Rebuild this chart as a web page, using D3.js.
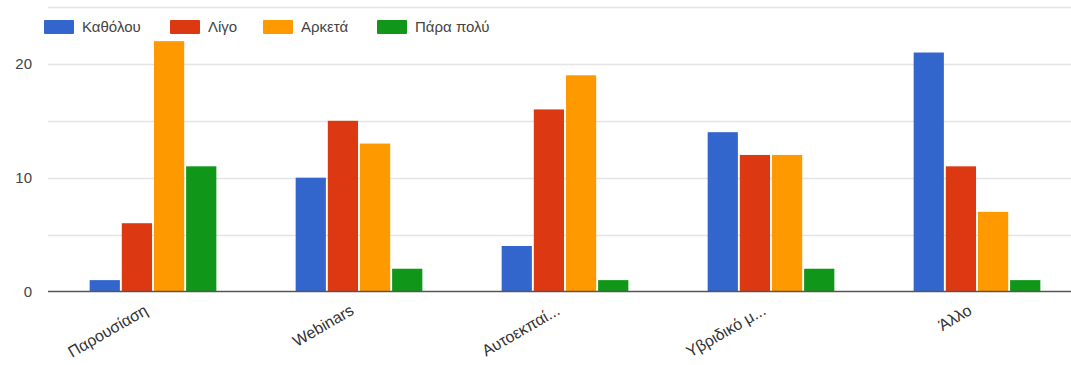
<!DOCTYPE html>
<html>
<head>
<meta charset="utf-8">
<script src="https://cdn.jsdelivr.net/npm/d3@7/dist/d3.min.js"></script>
<style>
  html, body { margin: 0; padding: 0; background: #fff; }
  svg { display: block; font-family: "Liberation Sans", Arial, sans-serif; }
</style>
</head>
<body>
<svg id="chart" width="1071" height="365"></svg>
<script>
// Categories and answer levels
const categories = ["Παρουσίαση", "Webinars", "Αυτοεκπαί...", "Υβριδικό μ...", "Άλλο"];
const seriesNames = ["Καθόλου", "Λίγο", "Αρκετά", "Πάρα πολύ"];
const seriesColors = ["#3366cc", "#dc3912", "#ff9900", "#109618"];

// Counts per category, one array per answer level
const katholou = [1, 10, 4, 14, 21];
const ligo     = [6, 15, 16, 12, 11];
const arketa   = [22, 13, 19, 12, 7];
const parapolu = [11, 2, 1, 2, 1];
const seriesValues = [katholou, ligo, arketa, parapolu];

const yTickValues = [0, 10, 20];
const gridValues = [5, 10, 15, 20, 25];

const svg = d3.select("#chart");
const plot = { left: 50, right: 1080, top: 7, bottom: 291.5 };

const x0 = d3.scaleBand()
  .domain(categories)
  .range([plot.left, plot.right])
  .paddingInner(0.385)
  .paddingOuter(0.1925);

const x1 = d3.scaleBand()
  .domain(seriesNames)
  .range([0, x0.bandwidth()])
  .paddingInner(0.06);

const y = d3.scaleLinear().domain([0, 25]).range([plot.bottom, plot.top]);

// Gridlines
svg.append("g")
  .selectAll("line")
  .data(gridValues)
  .join("line")
  .attr("x1", 48).attr("x2", 1071)
  .attr("y1", d => Math.round(y(d)) + 0.5)
  .attr("y2", d => Math.round(y(d)) + 0.5)
  .attr("stroke", "#e4e4e4")
  .attr("stroke-width", 1.5);

// Bars
const rows = categories.map((c, i) => ({
  cat: c,
  vals: seriesNames.map((s, j) => ({ s, v: seriesValues[j][i], color: seriesColors[j] }))
}));

svg.append("g")
  .selectAll("g")
  .data(rows)
  .join("g")
  .attr("transform", d => `translate(${x0(d.cat)},0)`)
  .selectAll("rect")
  .data(d => d.vals)
  .join("rect")
  .attr("x", d => x1(d.s))
  .attr("width", x1.bandwidth())
  .attr("y", d => y(d.v))
  .attr("height", d => y(0) - y(d.v))
  .attr("fill", d => d.color);

// Baseline
svg.append("line")
  .attr("x1", 48).attr("x2", 1071)
  .attr("y1", y(0)).attr("y2", y(0))
  .attr("stroke", "#555")
  .attr("stroke-width", 1.5);

// Y axis labels
const yAxis = d3.axisLeft(y).tickValues(yTickValues).tickSize(0).tickPadding(0);
const yg = svg.append("g").attr("transform", "translate(32,0)").call(yAxis);
yg.select(".domain").remove();
yg.selectAll("text")
  .attr("font-size", 15)
  .attr("fill", "#444")
  .attr("font-family", "'Liberation Sans', Arial, sans-serif");

// X axis labels, rotated
const xAxis = d3.axisBottom(x0).tickSize(0).tickPadding(0);
const xg = svg.append("g").attr("transform", `translate(0,${y(0)})`).call(xAxis);
xg.select(".domain").remove();
xg.selectAll("text")
  .attr("font-size", 16)
  .attr("fill", "#333")
  .attr("font-family", "'Liberation Sans', Arial, sans-serif")
  .attr("text-anchor", "end")
  .attr("dy", null)
  .attr("y", 0)
  .attr("transform", "translate(-4,22) rotate(-30)");

// Legend
const legendX = [44, 170, 263, 377];
const legend = svg.append("g")
  .selectAll("g")
  .data(seriesNames)
  .join("g")
  .attr("transform", (d, i) => `translate(${legendX[i]},20)`);
legend.append("rect")
  .attr("width", 30).attr("height", 14).attr("rx", 1)
  .attr("fill", (d, i) => seriesColors[i]);
legend.append("text")
  .attr("x", 38).attr("y", 12)
  .attr("font-size", 15)
  .attr("fill", "#444")
  .text(d => d);
</script>
</body>
</html>
